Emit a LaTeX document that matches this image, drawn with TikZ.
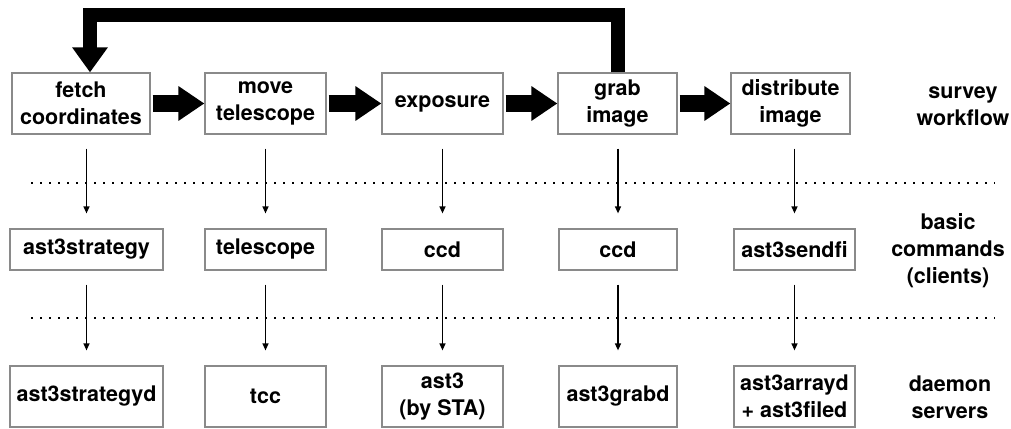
\documentclass[tikz,border=0pt]{standalone}
\usepackage{fontspec}
\setmainfont{TeX Gyre Heros}
\usetikzlibrary{arrows.meta,calc}
\definecolor{boxgray}{HTML}{8A8A8A}
\begin{document}
\begin{tikzpicture}[x=1pt,y=-1pt,
  txt/.style={align=center, inner sep=0pt, font=\bfseries\fontsize{21.5}{27}\selectfont},
  box/.style={txt, draw=boxgray, line width=1.2pt, fill=white},
  bigbox/.style={box, minimum height=61pt},
  smallbox/.style={box, minimum height=41pt},
  flowarrow/.style={line width=17pt, -{Triangle[length=26pt,width=33pt]}},
  fbarrow/.style={line width=14pt, line join=miter, -{Triangle[length=25pt,width=34pt]}},
  thinarr/.style={line width=1.3pt, -{Triangle[length=7pt,width=6pt]}, shorten <=14pt, shorten >=15pt},
  dotline/.style={line width=2.2pt, dash pattern=on 2.2pt off 6.8pt}
]
\useasboundingbox (0,0) rectangle (1011,428);

% row 1: survey workflow
\node[bigbox, minimum width=138pt] (f) at (81,103.5) {fetch\\coordinates};
\node[bigbox, minimum width=121pt] (m) at (265.5,103.5) {move\\telescope};
\node[bigbox, minimum width=121pt] (e) at (442.5,103.5) {exposure};
\node[bigbox, minimum width=119pt] (g) at (617.5,103.5) {grab\\image};
\node[bigbox, minimum width=119pt] (d) at (790.5,103.5) {distribute\\image};

% row 2: basic commands
\node[smallbox, minimum width=153pt] (s1) at (86.5,249.5) {ast3strategy};
\node[smallbox, minimum width=121pt] (s2) at (265.5,249.5) {telescope};
\node[smallbox, minimum width=121pt] (s3) at (442.5,249.5) {ccd};
\node[smallbox, minimum width=118pt] (s4) at (618,249.5) {ccd};
\node[smallbox, minimum width=121pt] (s5) at (794.5,249.5) {ast3sendfi};

% row 3: daemon servers
\node[bigbox, minimum width=153pt] (t1) at (86.5,396.5) {ast3strategyd};
\node[bigbox, minimum width=121pt] (t2) at (265.5,396.5) {tcc};
\node[bigbox, minimum width=121pt] (t3) at (442.5,396.5) {ast3\\(by STA)};
\node[bigbox, minimum width=118pt] (t4) at (618,396.5) {ast3grabd};
\node[bigbox, minimum width=121pt] (t5) at (794.5,396.5) {ast3arrayd\\+ ast3filed};

% right-hand labels
\node[txt] (l1) at (963,106) {survey\\workflow};
\node[txt] (l2) at (948,251) {basic\\commands\\(clients)};
\node[txt] (l3) at (950,397) {daemon\\servers};

% thick workflow arrows
\draw[flowarrow] ([xshift=2pt]f.east) -- (m.west);
\draw[flowarrow] ([xshift=2pt]m.east) -- (e.west);
\draw[flowarrow] ([xshift=2pt]e.east) -- (g.west);
\draw[flowarrow] ([xshift=2pt]g.east) -- (d.west);

% feedback arrow
\coordinate (fb) at (90,15);
\draw[fbarrow] (g.north) |- (fb) -- (fb |- f.north);

% dotted separators
\draw[dotline] (31,183) -- (995,183);
\draw[dotline] (31,318) -- (995,318);

% thin arrows row 1 -> row 2
\draw[thinarr] (f.south -| s1.north) -- (s1.north);
\draw[thinarr] (m.south -| s2.north) -- (s2.north);
\draw[thinarr] (e.south -| s3.north) -- (s3.north);
\draw[thinarr] (g.south -| s4.north) -- (s4.north);
\draw[thinarr] (d.south -| s5.north) -- (s5.north);

% thin arrows row 2 -> row 3
\draw[thinarr] (s1.south) -- (t1.north);
\draw[thinarr] (s2.south) -- (t2.north);
\draw[thinarr] (s3.south) -- (t3.north);
\draw[thinarr] (s4.south) -- (t4.north);
\draw[thinarr] (s5.south) -- (t5.north);
\end{tikzpicture}
\end{document}
